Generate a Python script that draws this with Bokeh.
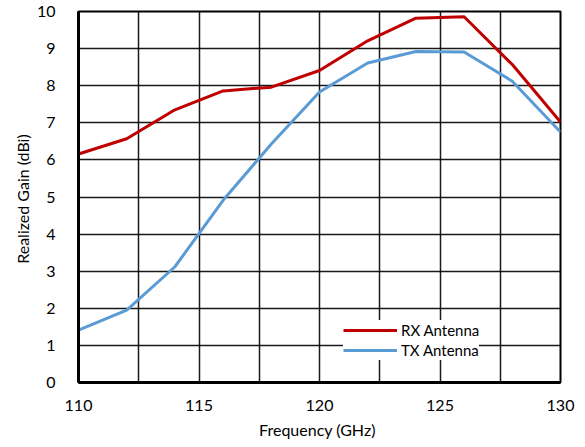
from bokeh.plotting import figure
from bokeh.models import FixedTicker, Legend, LegendItem, Range1d
from bokeh.embed import file_html
from bokeh.resources import INLINE

freq = [110, 112, 114, 116, 118, 120, 122, 124, 126, 128, 130]
rx_gain = [6.16, 6.57, 7.35, 7.86, 7.96, 8.41, 9.21, 9.82, 9.86, 8.57, 7.02]
tx_gain = [1.41, 1.95, 3.12, 4.91, 6.43, 7.83, 8.61, 8.92, 8.91, 8.12, 6.75]
x_ticks = [110, 115, 120, 125, 130]
x_grid = [110, 112.5, 115, 117.5, 120, 122.5, 125, 127.5, 130]
y_ticks = [0, 1, 2, 3, 4, 5, 6, 7, 8, 9, 10]

FONT = "Lato"

p = figure(width=580, height=440, frame_width=482, frame_height=371,
           min_border_left=78, min_border_top=11, min_border_right=20, min_border_bottom=58,
           output_backend="svg", toolbar_location=None,
           x_range=Range1d(110, 130), y_range=Range1d(0, 10))

p.background_fill_color = "white"
p.border_fill_color = "white"
p.outline_line_color = "black"
p.outline_line_width = 2

p.xaxis.ticker = FixedTicker(ticks=x_ticks)
p.yaxis.ticker = FixedTicker(ticks=y_ticks)
p.xgrid.ticker = FixedTicker(ticks=x_grid)
p.ygrid.ticker = FixedTicker(ticks=y_ticks)
for g in (p.xgrid, p.ygrid):
    g.grid_line_color = "black"
    g.grid_line_width = 1.5
    g.grid_line_alpha = 0.9

for ax in (p.xaxis, p.yaxis):
    ax.axis_line_color = "black"
    ax.axis_line_width = 3
    ax.major_tick_line_color = None
    ax.minor_tick_line_color = None
    ax.major_label_text_font = FONT
    ax.major_label_text_font_size = "16px"
    ax.major_label_text_color = "black"
    ax.axis_label_text_font = FONT
    ax.axis_label_text_font_size = "16px"
    ax.axis_label_text_font_style = "normal"
    ax.axis_label_text_color = "black"

p.xaxis.axis_label = "Frequency  (GHz)"
p.yaxis.axis_label = "Realized Gain  (dBi)"
p.xaxis.major_label_standoff = 11
p.yaxis.major_label_standoff = 17
p.xaxis.axis_label_standoff = 6
p.yaxis.axis_label_standoff = 2

r_rx = p.line(freq, rx_gain, line_color="#C00000", line_width=3)
r_tx = p.line(freq, tx_gain, line_color="#5B9BD5", line_width=3)

legend = Legend(items=[LegendItem(label="RX Antenna", renderers=[r_rx]),
                       LegendItem(label="TX Antenna", renderers=[r_tx])],
                location=(265, 22), padding=6, spacing=0, margin=0,
                glyph_width=54, glyph_height=20, label_height=20,
                label_standoff=4, label_text_font=FONT, label_text_font_size="15px",
                label_text_color="black",
                background_fill_color="white", background_fill_alpha=1,
                border_line_color=None)
p.add_layout(legend)

open("out.html", "w").write(file_html(p, INLINE))
